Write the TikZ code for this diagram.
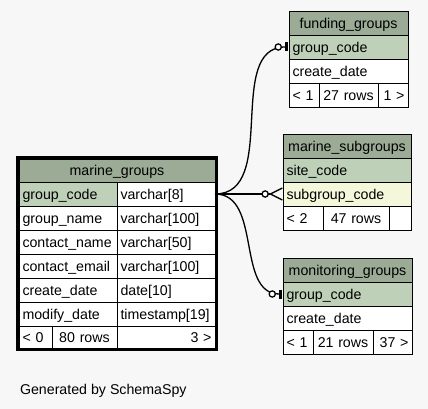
\documentclass[tikz,border=0pt]{standalone}
\usepackage{fontspec}
\setmainfont{Liberation Sans}
\usepackage{tikz}
\usetikzlibrary{arrows.meta,positioning,fit}
\usepackage{xcolor}
\definecolor{bggray}{HTML}{F7F7F7}
\definecolor{headgreen}{HTML}{9BAB96}
\definecolor{keygreen}{HTML}{BED1B8}
\definecolor{idxyellow}{HTML}{F4F7DA}
\newcommand{\tabfont}{\fontsize{14.2}{17}\selectfont}

\begin{document}
\begin{tikzpicture}[x=1pt,y=-1pt,every node/.style={font=\tabfont},
  cell/.style={draw,line width=0.9pt,fill=white,outer sep=0pt,inner xsep=3.5pt,inner ysep=0pt,minimum height=24pt,align=left,text height=10.2pt,text depth=0pt},
  head/.style={cell,fill=headgreen,align=center},
  key/.style={cell,fill=keygreen},
  idx/.style={cell,fill=idxyellow},
  mid/.style={cell,align=center},
  rgt/.style={cell,align=right},
  fkone/.style={line width=1.3pt,-{Circle[open,fill=white,length=7.5pt,width=7.5pt,line width=1.3pt,sep=2.5pt]Bar[width=9pt,line width=3pt,sep=1.5pt]}},
  fkmany/.style={line width=1.3pt,-{Circle[open,fill=white,length=7.5pt,width=7.5pt,line width=1.3pt,sep=0pt]Straight Barb[reversed,length=12pt,width=12pt,line width=1.3pt]}}]
\fill[bggray] (0,0) rectangle (428,409);
\useasboundingbox (0,0) rectangle (428,409);
% marine_groups
\node[head,text width=189pt,minimum height=23pt,anchor=north west] (mghead) at (19,159) {marine\_groups};
\node[key,text width=91pt,below right=0pt and 0pt of mghead.south west] (mgcode) {group\_code};
\node[cell,text width=91pt,right=0pt of mgcode] (mgcodet) {varchar[8]};
\node[cell,text width=91pt,below right=0pt and 0pt of mgcode.south west] (mgname) {group\_name};
\node[cell,text width=91pt,right=0pt of mgname] (mgnamet) {varchar[100]};
\node[cell,text width=91pt,below right=0pt and 0pt of mgname.south west] (mgcname) {contact\_name};
\node[cell,text width=91pt,right=0pt of mgcname] (mgcnamet) {varchar[50]};
\node[cell,text width=91pt,below right=0pt and 0pt of mgcname.south west] (mgemail) {contact\_email};
\node[cell,text width=91pt,right=0pt of mgemail] (mgemailt) {varchar[100]};
\node[cell,text width=91pt,below right=0pt and 0pt of mgemail.south west] (mgcdate) {create\_date};
\node[cell,text width=91pt,right=0pt of mgcdate] (mgcdatet) {date[10]};
\node[cell,text width=91pt,below right=0pt and 0pt of mgcdate.south west] (mgmdate) {modify\_date};
\node[cell,text width=91pt,right=0pt of mgmdate] (mgmdatet) {timestamp[19]};
\node[cell,text width=26pt,minimum height=22pt,below right=0pt and 0pt of mgmdate.south west] (mgfoot1) {< 0};
\node[mid,text width=58pt,minimum height=22pt,right=0pt of mgfoot1] (mgfoot2) {80 rows};
\node[rgt,text width=91pt,minimum height=22pt,right=0pt of mgfoot2] (mgfoot3) {3 >};
\node[draw,line width=3pt,inner sep=1.5pt,fit=(mghead)(mgfoot1)(mgfoot3)] (mgbox) {};
% funding_groups
\node[head,text width=112pt,anchor=north west] (fghead) at (289,11) {funding\_groups};
\node[key,text width=112pt,below right=0pt and 0pt of fghead.south west] (fgcode) {group\_code};
\node[cell,text width=112pt,below right=0pt and 0pt of fgcode.south west] (fgdate) {create\_date};
\node[cell,text width=23pt,below right=0pt and 0pt of fgdate.south west] (fgfoot1) {< 1};
\node[mid,text width=52pt,right=0pt of fgfoot1] (fgfoot2) {27 rows};
\node[rgt,text width=23pt,right=0pt of fgfoot2] (fgfoot3) {1 >};
% marine_subgroups
\node[head,text width=121pt,anchor=north west] (mshead) at (283,134) {marine\_subgroups};
\node[key,text width=121pt,below right=0pt and 0pt of mshead.south west] (mssite) {site\_code};
\node[idx,text width=121pt,below right=0pt and 0pt of mssite.south west] (mssub) {subgroup\_code};
\node[cell,text width=33pt,below right=0pt and 0pt of mssub.south west] (msfoot1) {< 2};
\node[mid,text width=59pt,right=0pt of msfoot1] (msfoot2) {47 rows};
\node[rgt,text width=15pt,right=0pt of msfoot2] (msfoot3) {};
% monitoring_groups
\node[head,text width=122pt,anchor=north west] (monhead) at (283,258) {monitoring\_groups};
\node[key,text width=122pt,below right=0pt and 0pt of monhead.south west] (moncode) {group\_code};
\node[cell,text width=122pt,below right=0pt and 0pt of moncode.south west] (mondate) {create\_date};
\node[cell,text width=23pt,below right=0pt and 0pt of mondate.south west] (monfoot1) {< 1};
\node[mid,text width=53pt,right=0pt of monfoot1] (monfoot2) {21 rows};
\node[rgt,text width=32pt,right=0pt of monfoot2] (monfoot3) {37 >};
% foreign keys
\draw[fkone] (mgcodet.east) to[out=0,in=180] (fgcode.west);
\draw[fkmany] (mgcodet.east) -- (mssub.west);
\draw[fkone] (mgcodet.east) to[out=0,in=180] (moncode.west);
\node[anchor=base west] (gen) at (16.5,394) {Generated by SchemaSpy};
\end{tikzpicture}
\end{document}
